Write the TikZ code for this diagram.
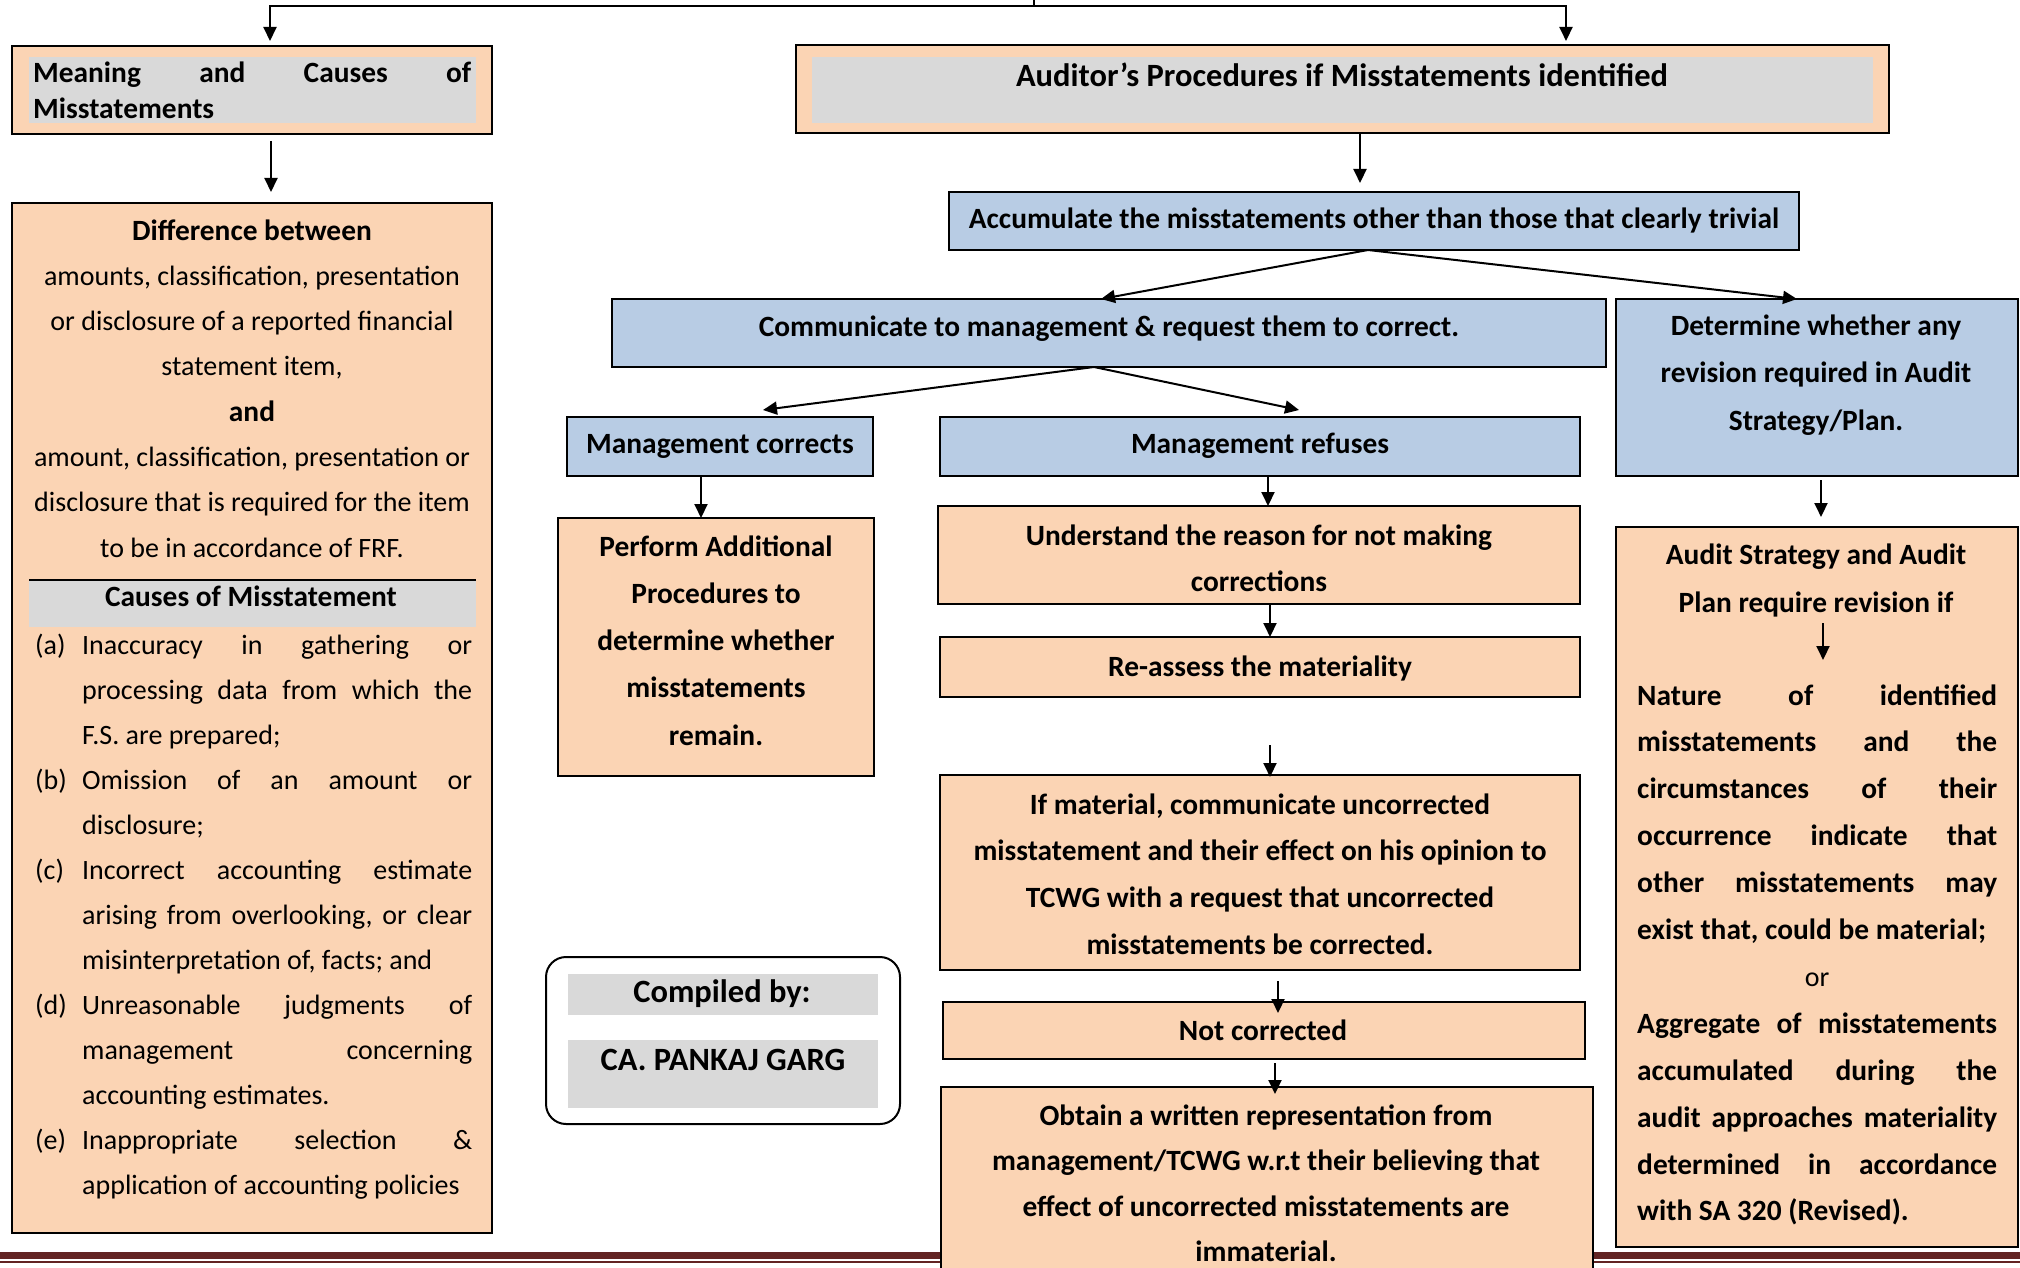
\documentclass[tikz,border=0pt]{standalone}
\usepackage{fontspec}
\setmainfont{Carlito}
\usetikzlibrary{arrows.meta,calc}
\definecolor{peach}{HTML}{FBD4B4}
\definecolor{paleblue}{HTML}{B8CCE4}
\definecolor{shade}{HTML}{D9D9D9}
\definecolor{rulered}{HTML}{622423}
% body text at the given line spacing
\newcommand\fsz[1]{\fontsize{28}{#1}\selectfont}
% bold heading text at the given line spacing
\newcommand\fbd[1]{\fontsize{29.4}{#1}\selectfont\bfseries}
% bold run of text inside body text
\newcommand\bt[1]{{\fontsize{29.4}{45.3}\selectfont\bfseries #1}}
% a line of text spread evenly over a given width
\newcommand\spread[2]{\leavevmode\hbox to #1{#2}}
\begin{document}
\begin{tikzpicture}[x=1pt,y=-1pt,
  box/.style={draw, line width=2.2pt, inner sep=0pt, outer sep=0pt},
  peachbox/.style={box, fill=peach},
  bluebox/.style={box, fill=paleblue},
  band/.style={fill=shade, inner sep=0pt, outer sep=0pt},
  txt/.style={inner sep=0pt, anchor=base, font=\fbd{45.3}},
  bigtxt/.style={inner sep=0pt, anchor=base, font={\fontsize{32.5}{40}\selectfont\bfseries}},
  arr/.style={-{Triangle[length=14pt,width=13pt]}, line width=2pt},
]
\useasboundingbox (0,0) rectangle (2020,1268);

% page rule at the foot
\draw[rulered, line width=7pt] (0,1255.5) -- (2020,1255.5);
\draw[rulered, line width=2pt] (0,1262) -- (2020,1262);

% ---------- left column ----------
\node[peachbox, minimum width=480pt, minimum height=88pt] (meaning) at (252,90) {};
\node[band, minimum width=447pt, minimum height=66pt] (meaningband) at (252.5,90) {};
\node[inner sep=0pt, anchor=base west, font=\fbd{35.5}] (meaningtxt) at (33,83)
  {\parbox[t]{438pt}{\spread{438pt}{Meaning\hfill and\hfill Causes\hfill of}\\Misstatements}};

\node[peachbox, minimum width=480pt, minimum height=1030pt] (diff) at (252,718) {};
\node[inner sep=0pt, anchor=base, font=\fsz{45.3}] (difftxt) at (252,240)
  {\parbox[t]{460pt}{\centering\bt{Difference between}\\
   amounts, classification, presentation\\
   or disclosure of a reported financial\\
   statement item,\\
   \bt{and}\\
   amount, classification, presentation or\\
   disclosure that is required for the item\\
   to be in accordance of FRF.}};
\node[band, minimum width=447pt, minimum height=47pt] (causesband) at (252.5,603.5) {};
\draw[line width=2pt] (causesband.north west) -- (causesband.north east);
\node[txt] (causeshead) at (251,606) {Causes of Misstatement};
\node[inner sep=0pt, anchor=base west, font=\fsz{45}] (causeslist) at (35,654)
  {\parbox[t]{437pt}{%
   \makebox[47pt][l]{(a)}\spread{390pt}{Inaccuracy\hfill in\hfill gathering\hfill or}\\
   \hspace*{47pt}\spread{390pt}{processing\hfill data\hfill from\hfill which\hfill the}\\
   \hspace*{47pt}F.S. are prepared;\\
   \makebox[47pt][l]{(b)}\spread{390pt}{Omission\hfill of\hfill an\hfill amount\hfill or}\\
   \hspace*{47pt}disclosure;\\
   \makebox[47pt][l]{(c)}\spread{390pt}{Incorrect\hfill accounting\hfill estimate}\\
   \hspace*{47pt}\spread{390pt}{arising\hfill from\hfill overlooking,\hfill or\hfill clear}\\
   \hspace*{47pt}misinterpretation of, facts; and\\
   \makebox[47pt][l]{(d)}\spread{390pt}{Unreasonable\hfill judgments\hfill of}\\
   \hspace*{47pt}\spread{390pt}{management\hfill concerning}\\
   \hspace*{47pt}accounting estimates.\\
   \makebox[47pt][l]{(e)}\spread{390pt}{Inappropriate\hfill selection\hfill \&}\\
   \hspace*{47pt}application of accounting policies}};

% ---------- right part ----------
\node[peachbox, minimum width=1093pt, minimum height=88pt] (auditor) at (1342.5,89) {};
\node[band, minimum width=1061pt, minimum height=66pt] (auditorband) at (1342.5,90) {};
\node[bigtxt] (auditortxt) at (1342,86.5) {Auditor’s Procedures if Misstatements identified};

\node[bluebox, minimum width=850pt, minimum height=58pt] (acc) at (1374,221) {};
\node[txt] (acctxt) at (1374,228) {Accumulate the misstatements other than those that clearly trivial};

\node[bluebox, minimum width=994pt, minimum height=68pt] (comm) at (1109,333) {};
\node[txt] (commtxt) at (1109,336) {Communicate to management \& request them to correct.};

\node[bluebox, minimum width=402pt, minimum height=177pt] (det) at (1817,387.5) {};
\node[txt, font=\fbd{47.5}] (dettxt) at (1816,335)
  {\parbox[t]{396pt}{\centering Determine whether any\\revision required in Audit\\Strategy/Plan.}};

\node[bluebox, minimum width=306pt, minimum height=59pt] (mc) at (720,446.5) {};
\node[txt] (mctxt) at (720,453.5) {Management corrects};
\node[bluebox, minimum width=640pt, minimum height=59pt] (mr) at (1260,446.5) {};
\node[txt] (mrtxt) at (1260,453.5) {Management refuses};

\node[peachbox, minimum width=316pt, minimum height=258pt] (perf) at (716,647) {};
\node[txt, font=\fbd{47.25}] (perftxt) at (716,556)
  {\parbox[t]{306pt}{\centering Perform Additional\\Procedures to\\determine whether\\misstatements\\remain.}};

\node[peachbox, minimum width=642pt, minimum height=98pt] (und) at (1259,555) {};
\node[txt, font=\fbd{46}] (undtxt) at (1259,545)
  {\parbox[t]{620pt}{\centering Understand the reason for not making\\corrections}};

\node[peachbox, minimum width=640pt, minimum height=60pt] (reas) at (1260,667) {};
\node[txt] (reastxt) at (1260,676) {Re-assess the materiality};

\node[peachbox, minimum width=640pt, minimum height=195pt] (ifmat) at (1260,872.5) {};
\node[txt, font=\fbd{46.7}] (ifmattxt) at (1260,814)
  {\parbox[t]{634pt}{\centering If material, communicate uncorrected\\
   misstatement and their effect on his opinion to\\
   TCWG with a request that uncorrected\\
   misstatements be corrected.}};

\node[peachbox, minimum width=642pt, minimum height=57pt] (notc) at (1264,1030.5) {};
\node[txt] (notctxt) at (1263,1040) {Not corrected};

\node[peachbox, minimum width=652pt, minimum height=203pt] (obt) at (1267,1188.5) {};
\node[txt, font=\fbd{45.3}] (obttxt) at (1266,1125.5)
  {\parbox[t]{644pt}{\centering Obtain a written representation from\\
   management/TCWG w.r.t their believing that\\
   effect of uncorrected misstatements are\\
   immaterial.}};

\node[draw, line width=2pt, rounded corners=20pt, fill=white, inner sep=0pt, outer sep=0pt,
      minimum width=354pt, minimum height=167pt] (comp) at (723,1040.5) {};
\node[band, minimum width=310pt, minimum height=41pt] (compband) at (723,994.5) {};
\node[band, minimum width=310pt, minimum height=68pt] (nameband) at (723,1074) {};
\node[bigtxt] (comptxt) at (722,1002.5) {Compiled by:};
\node[bigtxt] (nametxt) at (723,1070.5) {CA. PANKAJ GARG};

\node[peachbox, minimum width=402pt, minimum height=720pt] (aud) at (1817,887) {};
\node[txt, font=\fbd{48}] (audhead) at (1816,564.5)
  {\parbox[t]{394pt}{\centering Audit Strategy and Audit\\Plan require revision if}};
\node[inner sep=0pt, anchor=base west, font=\fbd{46.9}] (audbody) at (1637,705)
  {\parbox[t]{360pt}{%
   \spread{360pt}{Nature\hfill of\hfill identified}\\
   \spread{360pt}{misstatements\hfill and\hfill the}\\
   \spread{360pt}{circumstances\hfill of\hfill their}\\
   \spread{360pt}{occurrence\hfill indicate\hfill that}\\
   \spread{360pt}{other\hfill misstatements\hfill may}\\
   exist that, could be material;\\
   \spread{360pt}{\hfill\fontsize{28}{46.9}\selectfont\mdseries or\hfill}\\
   \spread{360pt}{Aggregate\hfill of\hfill misstatements}\\
   \spread{360pt}{accumulated\hfill during\hfill the}\\
   \spread{360pt}{audit\hfill approaches\hfill materiality}\\
   \spread{360pt}{determined\hfill in\hfill accordance}\\
   with SA 320 (Revised).}};

% ---------- connectors ----------
\coordinate (topstem) at (1034,-2);
\coordinate (topjoin) at (1034,6);
\draw[line width=2pt] (topstem) -- (topjoin);
\draw[arr, shorten >=5pt] (topjoin) -| ($(meaning.north)+(18,0)$);
\draw[arr, shorten >=4pt] (topjoin) -| ($(auditor.north)+(223.5,0)$);
\draw[arr] ($(meaning.south)+(19,7)$) -- ($(diff.north)+(19,-11)$);
\draw[arr] ($(auditor.south)+(17.5,0)$) -- ($(acc.north)+(-14,-9)$);
\draw[arr] ($(acc.south)+(-6,0)$) -- ($(comm.north)+(-8,0)$);
\draw[arr] ($(acc.south)+(-6,0)$) -- ($(det.north)+(-20,0)$);
\draw[arr] ($(comm.south)+(-15,0)$) -- ($(mc.north)+(43,-7)$);
\draw[arr] ($(comm.south)+(-15,0)$) -- ($(mr.north)+(39,-7)$);
\draw[arr] ($(mc.south)+(-19,0)$) -- ($(perf.north)+(-15,0)$);
\draw[arr] ($(mr.south)+(8,0)$) -- ($(und.north)+(9,0)$);
\draw[arr] ($(und.south)+(11,0)$) -- ($(reas.north)+(10,0)$);
\draw[arr] ($(reas.south)+(10,48)$) -- ($(ifmat.north)+(10,2)$);
\draw[arr] ($(ifmat.south)+(18,11)$) -- ($(notc.north)+(14,11)$);
\draw[arr] ($(notc.south)+(11,4)$) -- ($(obt.north)+(8,7)$);
\draw[arr] ($(det.south)+(4,4)$) -- ($(aud.north)+(4,-10)$);
\coordinate (revA) at (1823,623);
\coordinate (revB) at (1823,660);
\draw[arr] (revA) -- (revB);
\end{tikzpicture}
\end{document}
